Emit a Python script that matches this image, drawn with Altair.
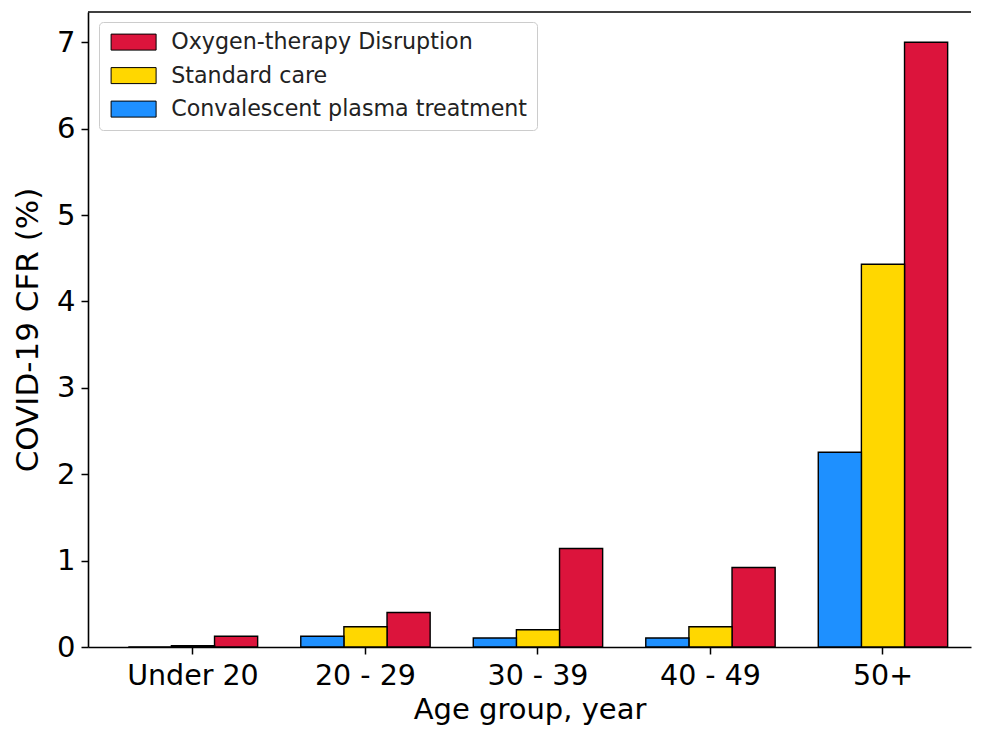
import altair as alt
import pandas as pd

groups = ["Under 20", "20 - 29", "30 - 39", "40 - 49", "50+"]
series = ["Oxygen-therapy Disruption", "Standard care", "Convalescent plasma treatment"]
bar_order = ["Convalescent plasma treatment", "Standard care", "Oxygen-therapy Disruption"]
oxygen = [0.125, 0.40, 1.14, 0.92, 7.0]
standard = [0.015, 0.235, 0.20, 0.235, 4.43]
plasma = [0.0, 0.125, 0.105, 0.105, 2.255]
colors = ["#DC143C", "#FFD700", "#1E90FF"]
y_ticks = [0, 1, 2, 3, 4, 5, 6, 7]

rows = []
for name, vals in zip(series, [oxygen, standard, plasma]):
    for g, v in zip(groups, vals):
        rows.append({"group": g, "series": name, "value": v})
df = pd.DataFrame(rows)

FONT = "DejaVu Sans"

bars = alt.Chart(df).mark_bar(stroke="black", strokeWidth=1.4).encode(
    x=alt.X(
        "group:N",
        sort=groups,
        scale=alt.Scale(paddingInner=0.25, paddingOuter=0.1844, align=0.633),
        axis=alt.Axis(
            title="Age group, year", labelAngle=0, labelFontSize=28.5, titleFontSize=29,
            labelColor="black", titleColor="black", titleFontWeight="normal",
            tickColor="black", tickSize=7, tickWidth=1.5, domainColor="black",
            domainWidth=1.6, labelPadding=7, titlePadding=6, grid=False,
        ),
    ),
    xOffset=alt.XOffset(
        "series:N",
        scale=alt.Scale(domain=bar_order, paddingInner=0, paddingOuter=0),
    ),
    y=alt.Y(
        "value:Q",
        scale=alt.Scale(domain=[0, 7.35], nice=False, zero=True),
        axis=alt.Axis(
            title="COVID-19 CFR (%)", values=y_ticks, format="d", labelFontSize=29,
            titleFontSize=31, labelColor="black", titleColor="black",
            titleFontWeight="normal", tickColor="black", tickSize=7, tickWidth=1.5,
            domainColor="black", domainWidth=1.6, labelPadding=6, titlePadding=12,
            grid=False,
        ),
    ),
    color=alt.Color(
        "series:N",
        scale=alt.Scale(domain=series, range=colors),
        legend=alt.Legend(
            title=None, orient="none", legendX=11, legendY=10,
            symbolType="M-1,-1H4.625V1H-1Z", symbolSize=256,
            symbolStrokeColor="black", symbolStrokeWidth=1, symbolOpacity=1,
            labelFontSize=22.2, labelFont=FONT, labelColor="#222222", labelOffset=41,
            padding=9, strokeColor="#cccccc", fillColor="rgba(255,255,255,0.8)",
            cornerRadius=4, rowPadding=10.5, labelLimit=500,
        ),
    ),
)

top_spine = alt.Chart(alt.Data(values=[{"k": 0}])).mark_rule(
    color="black", strokeWidth=1.6
).encode(y=alt.value(0))

chart = alt.layer(bars, top_spine).properties(
    width=883, height=635,
    autosize=alt.AutoSizeParams(type="none"),
    padding={"left": 80, "top": 4, "right": 2, "bottom": 78},
).configure(font=FONT).configure_view(stroke=None)

chart.save("out.html", embed_options={"renderer": "svg", "actions": False})
